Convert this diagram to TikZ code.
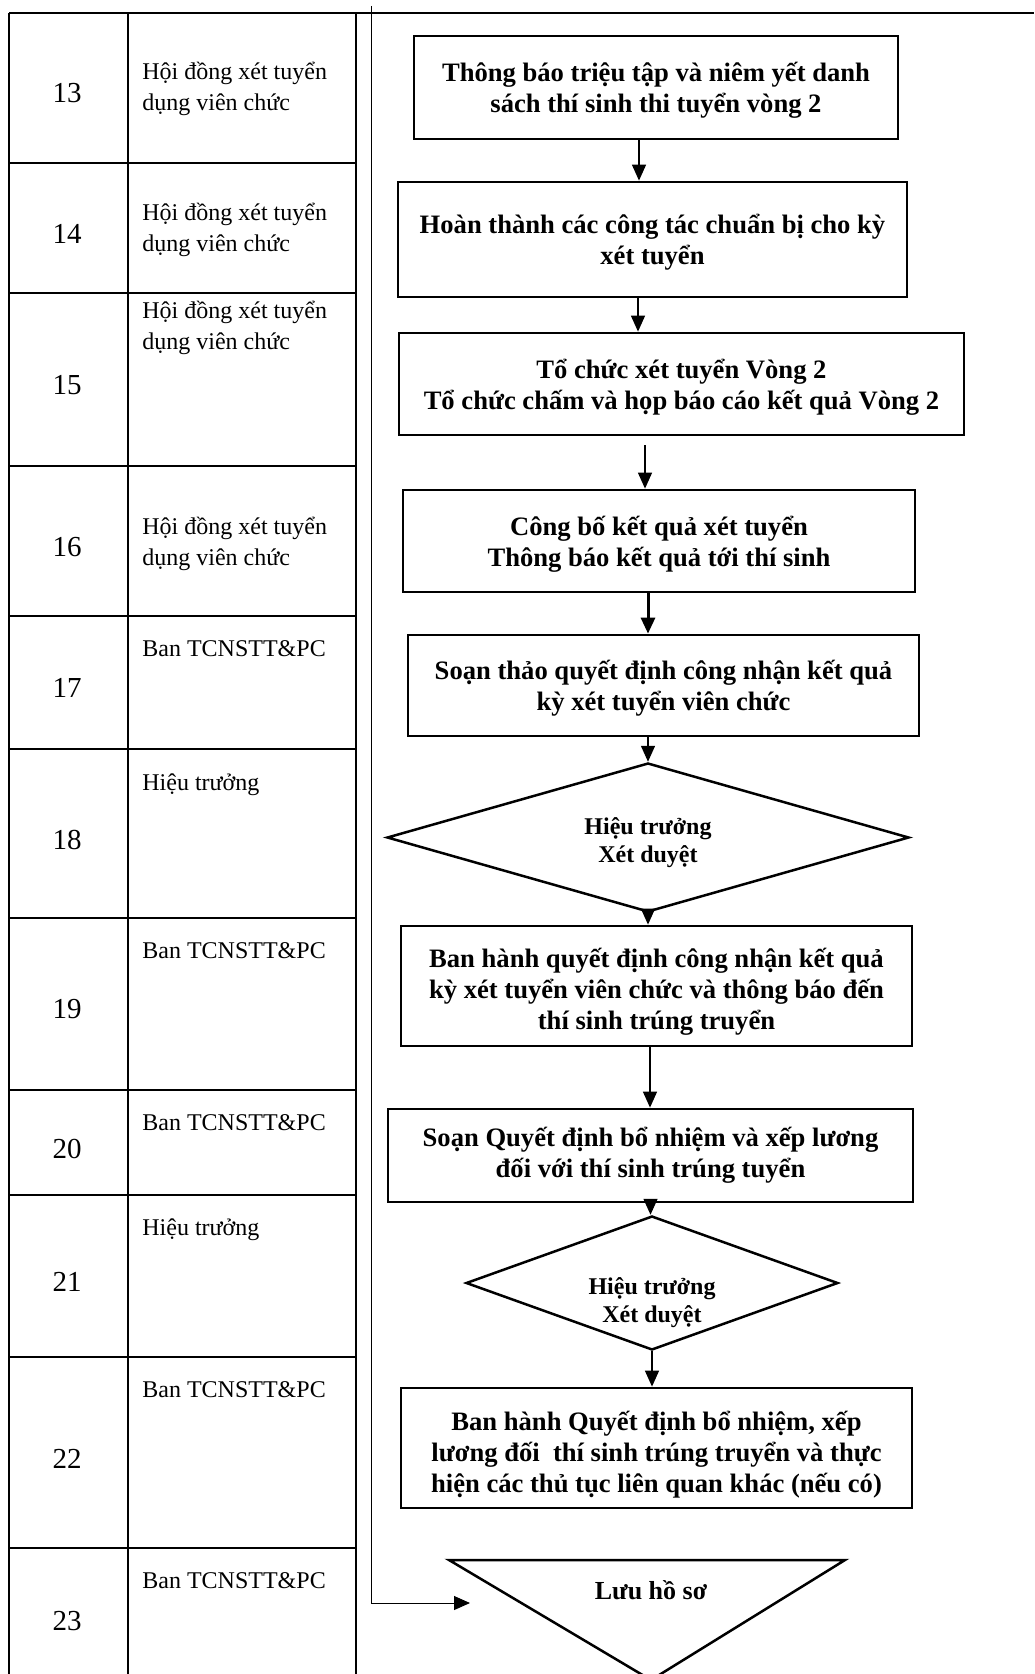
\documentclass[tikz,border=0pt]{standalone}
\usepackage{fontspec}
\setmainfont{Liberation Serif}
\usetikzlibrary{arrows.meta,positioning,shapes.geometric}

\begin{document}
\begin{tikzpicture}[
  x=0.5pt, y=-0.5pt,
  tablerule/.style={line width=1pt},
  cell/.style={inner sep=0pt, font=\fontsize{14.5}{17}\selectfont},
  role/.style={anchor=base west, align=left, inner sep=0pt, font=\fontsize{12}{15.5}\selectfont},
  box/.style={draw, line width=1.4pt, align=center, inner sep=0pt, text depth=0pt, font=\fontsize{13.3}{15.5}\selectfont\bfseries},
  check/.style={draw, diamond, line width=1.25pt, align=center, inner sep=0pt, text depth=0pt, font=\fontsize{12}{14}\selectfont\bfseries},
  arr/.style={-{Triangle[length=8pt, width=7pt]}, line width=0.7pt}
]
\useasboundingbox (0,0) rectangle (1034,1674);
\fill[white] (0,0) rectangle (1034,1674);

% table on the left
\draw[tablerule] (9,13) -- (1034,13);
\draw[tablerule] (9,13) -- (9,1674);
\draw[tablerule] (128,13) -- (128,1674);
\draw[tablerule] (356,13) -- (356,1674);
\foreach \y in {163,293,466,616,749,918,1090,1195,1357,1548}
  \draw[tablerule] (9,\y) -- (356,\y);

\node[cell] (n13) at (67,93) {13};
\node[cell] (n14) at (67,234) {14};
\node[cell] (n15) at (67,385) {15};
\node[cell] (n16) at (67,547) {16};
\node[cell] (n17) at (67,688) {17};
\node[cell] (n18) at (67,840) {18};
\node[cell] (n19) at (67,1009) {19};
\node[cell] (n20) at (67,1149) {20};
\node[cell] (n21) at (67,1282) {21};
\node[cell] (n22) at (67,1459) {22};
\node[cell] (n23) at (67,1621) {23};

% base of a two-line cell is its last line
\node[role] (r13) at (142,111) {Hội đồng xét tuyển\\dụng viên chức};
\node[role] (r14) at (142,252) {Hội đồng xét tuyển\\dụng viên chức};
\node[role] (r15) at (142,350) {Hội đồng xét tuyển\\dụng viên chức};
\node[role] (r16) at (142,565) {Hội đồng xét tuyển\\dụng viên chức};
\node[role] (r17) at (142,656) {Ban TCNSTT\&PC};
\node[role] (r18) at (142,790) {Hiệu trưởng};
\node[role] (r19) at (142,958) {Ban TCNSTT\&PC};
\node[role] (r20) at (142,1130) {Ban TCNSTT\&PC};
\node[role] (r21) at (142,1235) {Hiệu trưởng};
\node[role] (r22) at (142,1397) {Ban TCNSTT\&PC};
\node[role] (r23) at (142,1588) {Ban TCNSTT\&PC};

% flow chart
\node[box, minimum width=242pt, minimum height=51.5pt] (notice) at (656,87.5)
  {Thông báo triệu tập và niêm yết danh\\sách thí sinh thi tuyển vòng 2};
\node[box, minimum width=254.5pt, minimum height=57.5pt] (prepare) at (652.5,239.5)
  {Hoàn thành các công tác chuẩn bị cho kỳ\\xét tuyển};
\node[box, minimum width=282.5pt, minimum height=51pt] (round2) at (681.5,384)
  {Tổ chức xét tuyển Vòng 2\\Tổ chức chấm và họp báo cáo kết quả Vòng 2};
\node[box, minimum width=256pt, minimum height=51pt] (publish) at (659,541)
  {Công bố kết quả xét tuyển\\Thông báo kết quả tới thí sinh};
\node[box, minimum width=255.5pt, minimum height=50.5pt] (draft) at (663.5,685.5)
  {Soạn thảo quyết định công nhận kết quả\\kỳ xét tuyển viên chức};
\node[check, aspect=3.5, minimum width=261pt, minimum height=74.5pt, text height=24.8pt] (approve1) at (648,837.5)
  {Hiệu trưởng\\Xét duyệt};
\node[box, minimum width=255.5pt, minimum height=60pt, text height=43pt] (issue) at (656.5,986)
  {Ban hành quyết định công nhận kết quả\\kỳ xét tuyển viên chức và thông báo đến\\thí sinh trúng truyển};
\node[box, minimum width=262.5pt, minimum height=46.5pt, text depth=2.9pt] (appoint) at (650.5,1155.5)
  {Soạn Quyết định bổ nhiệm và xếp lương\\đối với thí sinh trúng tuyển};
\node[check, aspect=2.8, minimum width=186pt, minimum height=67pt, text height=39.7pt] (approve2) at (652,1283)
  {Hiệu trưởng\\Xét duyệt};
\node[box, minimum width=255.5pt, minimum height=60pt, text height=44.6pt] (final) at (656.5,1448)
  {Ban hành Quyết định bổ nhiệm, xếp\\lương đối~ thí sinh trúng truyển và thực\\hiện các thủ tục liên quan khác (nếu có)};

% storage triangle
\coordinate (storeL) at (449,1560);
\coordinate (storeR) at (845,1560);
\coordinate (storeV) at (651,1680);
\draw[line width=1.25pt] (storeL) -- (storeR) -- (storeV) -- cycle;
\node[inner sep=0pt, font=\fontsize{13}{15}\selectfont\bfseries] (store) at (651,1590) {Lưu hồ sơ};

\draw[arr] ([xshift=-8.5pt]notice.south) -- ([xshift=-8.5pt]notice.south |- prepare.north);
\draw[arr] ([xshift=-7.25pt]prepare.south) -- ([xshift=-7.25pt]prepare.south |- round2.north);
\draw[arr] ([xshift=-18.25pt, yshift=-4.5pt]round2.south) -- ([xshift=-18.25pt]round2.south |- publish.north);
\draw[arr, line width=1.5pt] ([xshift=-5.5pt]publish.south) -- ([xshift=-5.5pt]publish.south |- draft.north);
\draw[arr] ([xshift=-7.75pt]draft.south) -- ([xshift=-7.75pt]draft.south |- approve1.north);
\draw[arr] (approve1.south) -- (approve1.south |- issue.north);
\draw[arr] ([xshift=-3.25pt]issue.south) -- ([xshift=-3.25pt]issue.south |- appoint.north);
\draw[arr] (appoint.south) -- (appoint.south |- approve2.north);
\draw[arr] (approve2.south) -- (approve2.south |- final.north);

% archive line
\coordinate (lineTop) at (371,6);
\coordinate (lineBend) at (371,1603);
\coordinate (lineEnd) at (470,1603);
\draw[arr, line width=0.5pt] (lineTop) -- (lineBend) -- (lineEnd);
\end{tikzpicture}
\end{document}
